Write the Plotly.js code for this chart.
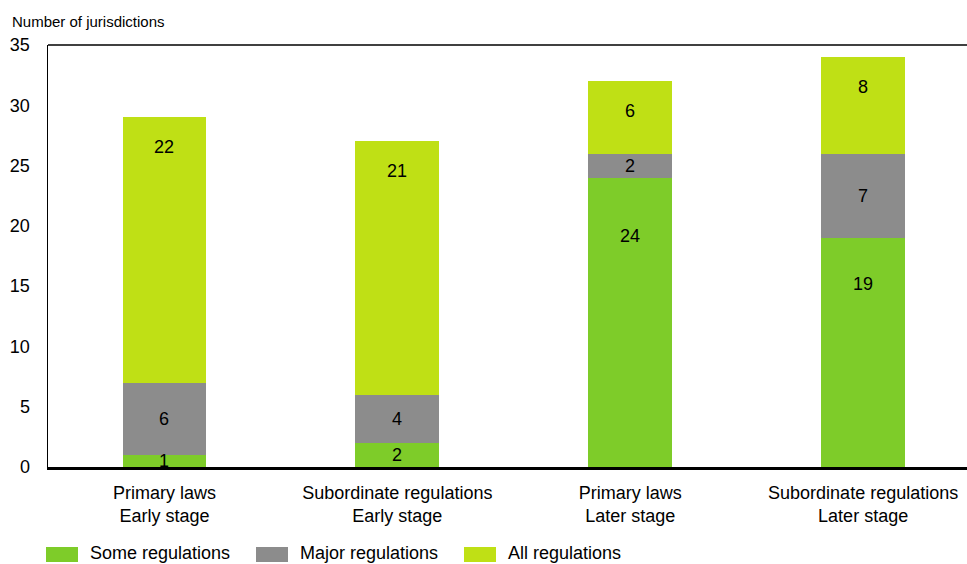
<!DOCTYPE html>
<html>
<head>
<meta charset="utf-8">
<script src="https://cdn.plot.ly/plotly-3.0.1.min.js"></script>
<style>
  html, body { margin: 0; padding: 0; background: #fff; }
  #chart { width: 967px; height: 564px; }
</style>
</head>
<body>
<div id="chart"></div>
<script>
// Stages of regulatory reform, by type of legal instrument
const categories = [
  "Primary laws<br>Early stage",
  "Subordinate regulations<br>Early stage",
  "Primary laws<br>Later stage",
  "Subordinate regulations<br>Later stage"
];
const someRegulations  = [1, 2, 24, 19];
const majorRegulations = [6, 4, 2, 7];
const allRegulations   = [22, 21, 6, 8];

const seriesNames  = ["Some regulations", "Major regulations", "All regulations"];
const seriesColors = ["#7ecc29", "#8c8c8c", "#bfe015"];
const seriesValues = [someRegulations, majorRegulations, allRegulations];

const FONT = "Liberation Sans, Arial, Helvetica, sans-serif";
const xIdx = categories.map((_, i) => i);

const traces = seriesValues.map((vals, s) => ({
  type: "bar",
  name: seriesNames[s],
  x: xIdx,
  y: vals,
  width: 0.36,
  marker: { color: seriesColors[s], line: { width: 0 } },
  showlegend: false,
  hoverinfo: "y+name"
}));

// Value labels placed within each stacked segment
const annotations = [];
xIdx.forEach(i => {
  let base = 0;
  seriesValues.forEach((vals, s) => {
    const v = vals[i];
    const top = base + v;
    let y, yshift = 0;
    if (s === 2) {            // top segment: label just below the bar top
      y = top; yshift = -30;
    } else if (s === 0 && v > 5) {  // tall base segment: label in upper part
      y = base + v * 0.8;
    } else {
      y = base + v / 2;
    }
    annotations.push({
      x: i, y: y, xref: "x", yref: "y", yshift: yshift,
      text: String(v), showarrow: false,
      xanchor: "center", yanchor: "middle",
      font: { family: FONT, size: 18, color: "#000" }
    });
    base = top;
  });
});

// Legend row along the bottom edge
const legendX = [46, 256, 464];
const shapes = [
  // top frame line
  { type: "line", xref: "paper", yref: "paper", x0: 0, x1: 1, y0: 1, y1: 1,
    line: { color: "#000", width: 1.5 } }
];
const W = 967, H = 564, mL = 48, mT = 45, mB = 97;
const plotW = W - mL, plotH = H - mT - mB;
const px2x = px => (px - mL) / plotW;
const py2y = py => (H - mB - py) / plotH;
seriesNames.forEach((name, s) => {
  shapes.push({
    type: "rect", xref: "paper", yref: "paper",
    x0: px2x(legendX[s]), x1: px2x(legendX[s] + 32),
    y0: py2y(562), y1: py2y(547),
    fillcolor: seriesColors[s], line: { width: 0 }
  });
  annotations.push({
    xref: "paper", yref: "paper",
    x: px2x(legendX[s] + 42), y: py2y(553),
    xanchor: "left", yanchor: "middle", showarrow: false,
    text: name, font: { family: FONT, size: 18, color: "#000" }
  });
});

const layout = {
  width: W, height: H,
  margin: { l: mL, r: 0, t: mT, b: mB, pad: 0 },
  paper_bgcolor: "#fff", plot_bgcolor: "#fff",
  barmode: "stack",
  font: { family: FONT, color: "#000" },
  title: {
    text: "Number of jurisdictions",
    font: { family: FONT, size: 15, color: "#000" },
    xref: "container", yref: "container",
    x: 12 / W, xanchor: "left",
    y: 1 - 22 / H, yanchor: "middle"
  },
  xaxis: {
    tickmode: "array", tickvals: xIdx, ticktext: categories,
    range: [-0.5, 3.446],
    showline: true, linecolor: "#000", linewidth: 3,
    ticks: "", showgrid: false, zeroline: false,
    tickfont: { family: FONT, size: 18, color: "#000" },
    ticklabelstandoff: 7
  },
  yaxis: {
    range: [0, 35], dtick: 5, tick0: 0,
    showline: true, linecolor: "#000", linewidth: 1.5,
    ticks: "", showgrid: false, zeroline: false,
    tickfont: { family: FONT, size: 18, color: "#000" },
    ticklabelstandoff: 13
  },
  shapes: shapes,
  annotations: annotations
};

Plotly.newPlot("chart", traces, layout, { displayModeBar: false, staticPlot: true });
</script>
</body>
</html>
